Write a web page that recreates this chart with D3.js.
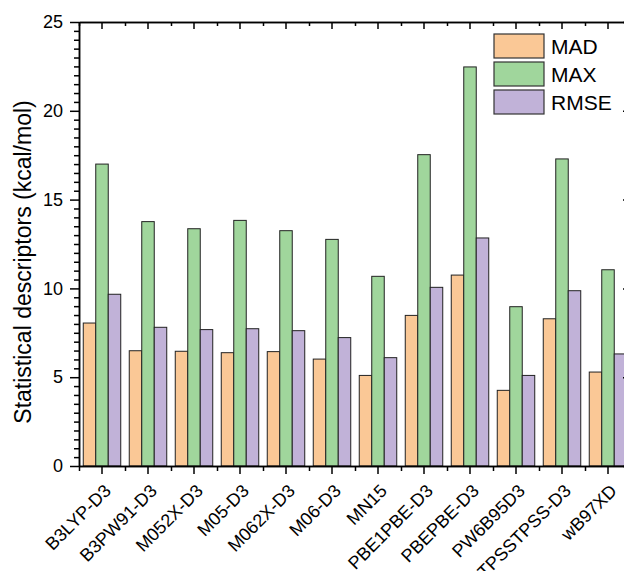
<!DOCTYPE html>
<html>
<head>
<meta charset="utf-8">
<script src="https://cdn.jsdelivr.net/npm/d3@7"></script>
<style>
  body { margin: 0; background: #fff; }
  svg { display: block; font-family: "Liberation Sans", Arial, sans-serif; }
</style>
</head>
<body>
<div id="graph"></div>
<script>
"use strict";

// data
const categories = ["B3LYP-D3", "B3PW91-D3", "M052X-D3", "M05-D3", "M062X-D3", "M06-D3",
    "MN15", "PBE1PBE-D3", "PBEPBE-D3", "PW6B95D3", "TPSSTPSS-D3", "wB97XD"];
const seriesNames = ["MAD", "MAX", "RMSE"];
const madValues = [8.05, 6.49, 6.46, 6.38, 6.44, 6.02, 5.10, 8.48, 10.75, 4.26, 8.29, 5.29];
const maxValues = [17.0, 13.76, 13.36, 13.83, 13.25, 12.76, 10.68, 17.53, 22.47, 8.97, 17.29, 11.05];
const rmseValues = [9.67, 7.81, 7.68, 7.73, 7.62, 7.23, 6.10, 10.06, 12.84, 5.10, 9.87, 6.31];
const yTicks = [0, 5, 10, 15, 20, 25];
const colors = ["#fac896", "#a0d69c", "#c1b2d8"];

const svgWidth = 624;
const svgHeight = 571;
const margin = { top: 22, left: 79 };
const width = 552;   // axis box runs a little past the right edge of the picture
const height = 444;

const data = categories.map((c, i) => ({
    cat: c,
    values: [madValues[i], maxValues[i], rmseValues[i]]
}));

const svg = d3.select("#graph")
    .append("svg")
    .attr("width", svgWidth)
    .attr("height", svgHeight);

const g = svg.append("g")
    .attr("transform", "translate(" + margin.left + "," + margin.top + ")");

const x = d3.scaleBand()
    .domain(categories)
    .range([0, width])
    .paddingInner(0.185)
    .paddingOuter(0.0925);

const xSub = d3.scaleBand()
    .domain(seriesNames)
    .range([0, x.bandwidth()]);

const y = d3.scaleLinear()
    .domain([0, 25])
    .range([height, 0]);

// boundaries between categories, for minor ticks
const xEdge = d3.scaleLinear().domain([0, categories.length]).range([0, width]);
const minorY = d3.range(0, 25.01, 0.5).filter(v => v % 5 !== 0);

// bars
const groups = g.selectAll(".group")
    .data(data)
    .enter().append("g")
    .attr("class", "group")
    .attr("transform", d => "translate(" + x(d.cat) + ",0)");

groups.selectAll("rect")
    .data(d => d.values.map((v, k) => ({ name: seriesNames[k], value: v, k: k })))
    .enter().append("rect")
    .attr("x", d => xSub(d.name))
    .attr("width", xSub.bandwidth())
    .attr("y", d => y(d.value))
    .attr("height", d => height - y(d.value))
    .attr("fill", d => colors[d.k])
    .attr("stroke", "#222")
    .attr("stroke-width", 1);

function styleAxis(sel) {
    sel.select(".domain").attr("stroke", "#000").attr("stroke-width", 1.5);
    sel.selectAll(".tick line").attr("stroke", "#000").attr("stroke-width", 1.5);
    sel.selectAll("text").attr("font-size", 18).attr("fill", "#000")
        .attr("font-family", "'Liberation Sans', Arial, sans-serif");
}

// left axis
g.append("g")
    .call(d3.axisLeft(y).tickValues(minorY).tickSize(5).tickSizeOuter(0).tickFormat(""))
    .call(styleAxis);
g.append("g")
    .call(d3.axisLeft(y).tickValues(yTicks).tickSize(9).tickSizeOuter(0).tickPadding(7))
    .call(styleAxis);

// right axis (inward ticks)
g.append("g")
    .attr("transform", "translate(" + width + ",0)")
    .call(d3.axisRight(y).tickValues(yTicks).tickSize(-8).tickSizeOuter(0).tickFormat(""))
    .call(styleAxis);

// top axis (inward ticks)
g.append("g")
    .call(d3.axisTop(xEdge).tickValues(d3.range(0, categories.length + 1)).tickSize(-4).tickSizeOuter(0).tickFormat(""))
    .call(styleAxis);
g.append("g")
    .call(d3.axisTop(x).tickSize(-7).tickSizeOuter(0).tickFormat(""))
    .call(styleAxis);

// bottom axis
g.append("g")
    .attr("transform", "translate(0," + height + ")")
    .call(d3.axisBottom(xEdge).tickValues(d3.range(0, categories.length + 1)).tickSize(5).tickSizeOuter(0).tickFormat(""))
    .call(styleAxis);
const xAxis = g.append("g")
    .attr("transform", "translate(0," + height + ")")
    .call(d3.axisBottom(x).tickSize(8).tickSizeOuter(0))
    .call(styleAxis);

xAxis.selectAll("text")
    .attr("y", 0)
    .attr("dy", 0)
    .attr("text-anchor", "end")
    .attr("transform", "translate(10,26) rotate(-45)");

// y title
svg.append("text")
    .attr("transform", "translate(31," + (margin.top + height / 2 + 18) + ") rotate(-90)")
    .attr("text-anchor", "middle")
    .attr("font-size", 23)
    .attr("fill", "#000")
    .text("Statistical descriptors (kcal/mol)");

// legend
const legend = svg.append("g")
    .attr("transform", "translate(494,34)");

const items = legend.selectAll(".item")
    .data(seriesNames)
    .enter().append("g")
    .attr("class", "item")
    .attr("transform", (d, i) => "translate(0," + (i * 28) + ")");

items.append("rect")
    .attr("width", 50)
    .attr("height", 24)
    .attr("fill", (d, i) => colors[i])
    .attr("stroke", "#333")
    .attr("stroke-width", 1.2);

items.append("text")
    .attr("x", 57)
    .attr("y", 20)
    .attr("font-size", 21)
    .attr("fill", "#000")
    .text(d => d);
</script>
</body>
</html>
